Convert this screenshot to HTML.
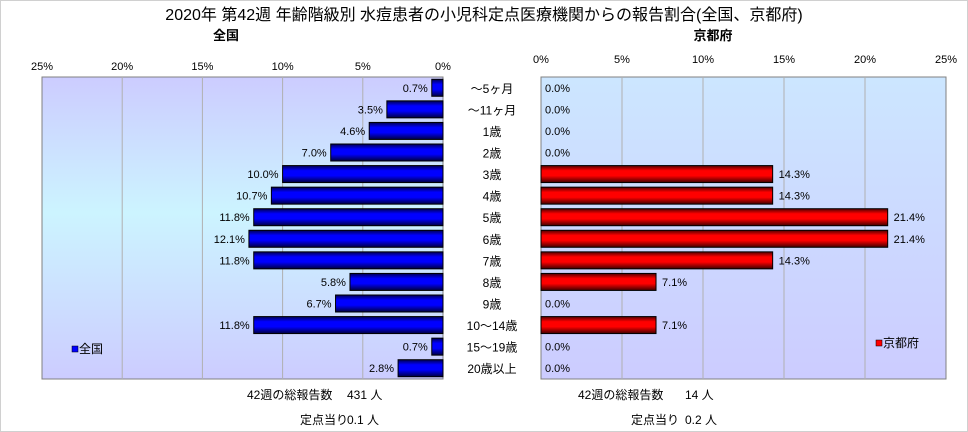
<!DOCTYPE html>
<html><head><meta charset="utf-8">
<style>
html,body{margin:0;padding:0;background:#fff;}
svg{display:block;font-family:"Liberation Sans","Noto Sans CJK JP",sans-serif;}
</style></head>
<body>
<svg id="chart" width="968" height="432" viewBox="0 0 968 432">
<defs>
<linearGradient id="bgL" x1="0" y1="0" x2="0" y2="1"><stop offset="0" stop-color="#ccccff"/><stop offset="0.45" stop-color="#ccf4ff"/><stop offset="1" stop-color="#ccccff"/></linearGradient>
<linearGradient id="bgR" x1="0" y1="0" x2="0" y2="1"><stop offset="0" stop-color="#cce6ff"/><stop offset="1" stop-color="#ccccff"/></linearGradient>
<linearGradient id="gBlue" x1="0" y1="0" x2="0" y2="1"><stop offset="0" stop-color="#000050"/><stop offset="0.3" stop-color="#0000ff"/><stop offset="0.6" stop-color="#0000ff"/><stop offset="1" stop-color="#000040"/></linearGradient>
<linearGradient id="gRed" x1="0" y1="0" x2="0" y2="1"><stop offset="0" stop-color="#500000"/><stop offset="0.3" stop-color="#ff0000"/><stop offset="0.6" stop-color="#ff0000"/><stop offset="1" stop-color="#400000"/></linearGradient>
</defs>
<rect x="0.5" y="0.5" width="967" height="431" fill="#fff" stroke="#d0d0d0"/>
<text x="484" y="20" font-size="16" text-anchor="middle">2020年 第42週 年齢階級別 水痘患者の小児科定点医療機関からの報告割合(全国、京都府)</text>
<text x="226" y="40" font-size="13" font-weight="bold" text-anchor="middle">全国</text>
<text x="713" y="40" font-size="13" font-weight="bold" text-anchor="middle">京都府</text>
<rect x="42" y="77" width="401" height="302" fill="url(#bgL)" stroke="#808080"/>
<rect x="541" y="77" width="405" height="302" fill="url(#bgR)" stroke="#808080"/>
<g id="gridL"></g><g id="gridR"></g><g id="bars"></g><g id="labels"></g>
<rect x="72" y="346" width="6" height="6" fill="#0000ff" stroke="#000" stroke-width="0.5"/>
<text x="79" y="353" font-size="12">全国</text>
<rect x="876" y="340" width="6" height="6" fill="#ff0000" stroke="#000" stroke-width="0.5"/>
<text x="883" y="347" font-size="12">京都府</text>
<text x="247" y="399" font-size="12">42週の総報告数</text>
<text x="347" y="399" font-size="12">431 人</text>
<text x="300" y="424" font-size="12">定点当り</text>
<text x="347" y="424" font-size="12">0.1 人</text>
<text x="578" y="399" font-size="12">42週の総報告数</text>
<text x="685" y="399" font-size="12">14 人</text>
<text x="631" y="424" font-size="12">定点当り</text>
<text x="685" y="424" font-size="12">0.2 人</text>
</svg>
<script>
const categories=["～5ヶ月","～11ヶ月","1歳","2歳","3歳","4歳","5歳","6歳","7歳","8歳","9歳","10～14歳","15～19歳","20歳以上"];
const natValues=[0.7,3.5,4.6,7.0,10.0,10.7,11.8,12.1,11.8,5.8,6.7,11.8,0.7,2.8];
const kyoValues=[0.0,0.0,0.0,0.0,14.3,14.3,21.4,21.4,14.3,7.1,0.0,7.1,0.0,0.0];
const tickValues=[0,5,10,15,20,25];
const NS="http://www.w3.org/2000/svg";
const top0=77,plotH=302,band=plotH/categories.length,barH=17;
const xL=v=>443-v/25*401;
const xR=v=>541+v/25*405;
const yC=i=>top0+band*(i+0.5);
function mk(tag,attrs,parent){const e=document.createElementNS(NS,tag);for(const k in attrs)e.setAttribute(k,attrs[k]);parent.appendChild(e);return e;}
const gL=document.getElementById('gridL'),gR=document.getElementById('gridR'),gB=document.getElementById('bars'),gT=document.getElementById('labels');
tickValues.forEach(t=>{
  if(t>0&&t<25){
    const a=mk('line',{x1:xL(t),x2:xL(t),y1:77,y2:379,stroke:'#b0b0b0'},gL);
    
    
    const b=mk('line',{x1:xR(t),x2:xR(t),y1:77,y2:379,stroke:'#b0b0b0'},gR);
    
    
  }
  const tl=mk('text',{x:xL(t),y:70,'font-size':11,'text-anchor':'middle'},gT);tl.textContent=t+'%';
  
  
  const tr=mk('text',{x:xR(t),y:63,'font-size':11,'text-anchor':'middle'},gT);tr.textContent=t+'%';
  
  
});
categories.forEach((c,i)=>{
  const y=yC(i);
  const cl=mk('text',{x:492,y:y+5,'font-size':12,'text-anchor':'middle'},gT);cl.textContent=c;
  
  
  const nv=natValues[i];
  if(nv>0){
    const r=mk('rect',{x:xL(nv),y:y-barH/2,width:443-xL(nv),height:barH,fill:'url(#gBlue)',stroke:'#000','stroke-width':1},gB);
    
    
  }
  const nl=mk('text',{x:xL(nv)-4,y:y+4,'font-size':11,'text-anchor':'end'},gT);nl.textContent=nv.toFixed(1)+'%';
  
  
  const kv=kyoValues[i];
  if(kv>0){
    const r=mk('rect',{x:541,y:y-barH/2,width:xR(kv)-541,height:barH,fill:'url(#gRed)',stroke:'#000','stroke-width':1},gB);
    
    
  }
  const kl=mk('text',{x:xR(kv)+(kv>0?6:4),y:y+4,'font-size':11},gT);kl.textContent=kv.toFixed(1)+'%';
  
  
});
</script>
</body></html>
